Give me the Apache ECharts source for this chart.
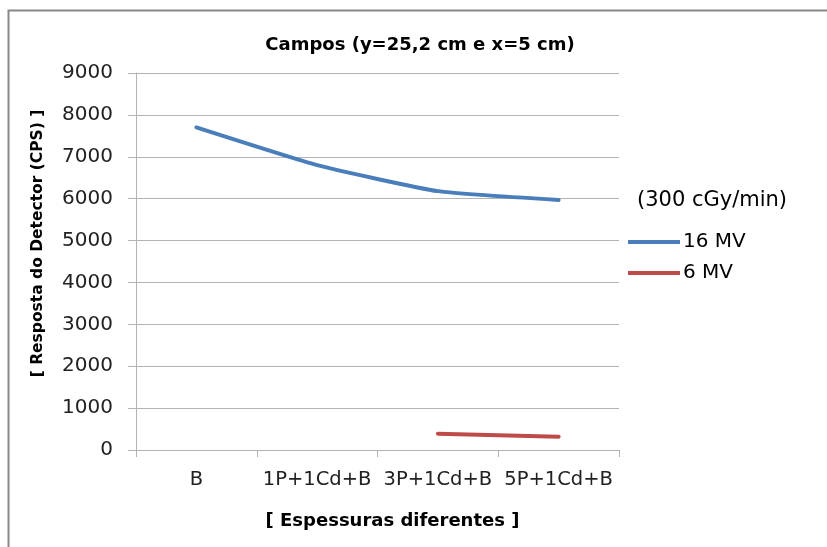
<!DOCTYPE html>
<html>
<head>
<meta charset="utf-8">
<script src="https://cdn.jsdelivr.net/npm/echarts@6/dist/echarts.min.js"></script>
<style>
  html, body { margin: 0; padding: 0; background: #fff; }
  #chart { width: 827px; height: 547px; }
</style>
</head>
<body>
<div id="chart"></div>
<script>
// Detector response (CPS) for each absorber stack
const categories = ['B', '1P+1Cd+B', '3P+1Cd+B', '5P+1Cd+B'];
const mv16 = [7700, 6800, 6180, 5970];
const mv6 = [null, null, 390, 315];
const yTicks = { min: 0, max: 9000, interval: 1000 };

const FONT = 'DejaVu Sans';
const gridColor = '#b3b3b3';

const chart = echarts.init(document.getElementById('chart'), null, { renderer: 'canvas' });

chart.setOption({
  backgroundColor: '#ffffff',
  animation: false,
  title: [
    {
      text: 'Campos (y=25,2 cm e x=5 cm)',
      left: 415,
      top: 31,
      textAlign: 'center',
      textStyle: { fontFamily: FONT, fontSize: 18, fontWeight: 'bold', color: '#000' }
    },
    {
      text: '(300 cGy/min)',
      left: 632,
      top: 185,
      textStyle: { fontFamily: FONT, fontSize: 21, fontWeight: 'normal', color: '#000' }
    }
  ],
  legend: {
    orient: 'vertical',
    left: 628,
    top: 232,
    padding: 0,
    icon: 'rect',
    itemWidth: 52,
    itemHeight: 4,
    itemGap: 11,
    data: ['16 MV', '6 MV'],
    textStyle: { fontFamily: FONT, fontSize: 20, color: '#000', padding: [0, 0, 0, -2] }
  },
  graphic: [
    {
      type: 'rect',
      shape: { x: 8.5, y: 10.5, width: 900, height: 600 },
      style: { fill: 'none', stroke: '#878787', lineWidth: 2 },
      silent: true
    }
  ],
  grid: { left: 136, right: 208, top: 73, bottom: 97 },
  xAxis: {
    type: 'category',
    data: categories,
    boundaryGap: true,
    name: '[ Espessuras diferentes ]',
    nameLocation: 'middle',
    nameGap: 62,
    nameTextStyle: { fontFamily: FONT, fontSize: 18, fontWeight: 'bold', color: '#000', padding: [0, 0, 0, 30] },
    axisLine: { show: true, lineStyle: { color: gridColor, width: 1 } },
    axisTick: { show: true, length: 7, lineStyle: { color: gridColor } },
    axisLabel: { fontFamily: FONT, fontSize: 19.5, color: '#222', margin: 20, interval: 0 },
    splitLine: { show: false }
  },
  yAxis: {
    type: 'value',
    min: yTicks.min,
    max: yTicks.max,
    interval: yTicks.interval,
    name: '[ Resposta do Detector (CPS) ]',
    nameLocation: 'middle',
    nameGap: 90,
    nameTextStyle: { fontFamily: FONT, fontSize: 15.5, fontWeight: 'bold', color: '#000', padding: [0, 0, 0, 36] },
    axisLine: { show: true, lineStyle: { color: gridColor, width: 1 } },
    axisTick: { show: true, length: 8, lineStyle: { color: gridColor } },
    axisLabel: {
      fontFamily: FONT, fontSize: 20, color: '#222', margin: 23,
      formatter: (v) => String(v)
    },
    splitLine: { show: true, lineStyle: { color: gridColor, width: 1 } }
  },
  series: [
    {
      name: '16 MV',
      type: 'line',
      data: mv16,
      showSymbol: false,
      smooth: 0.15,
      lineStyle: { color: '#4a7ebb', width: 4, cap: 'round' },
      itemStyle: { color: '#4a7ebb' }
    },
    {
      name: '6 MV',
      type: 'line',
      data: mv6,
      showSymbol: false,
      connectNulls: false,
      lineStyle: { color: '#be4b48', width: 4, cap: 'round' },
      itemStyle: { color: '#be4b48' }
    }
  ]
});
</script>
</body>
</html>
